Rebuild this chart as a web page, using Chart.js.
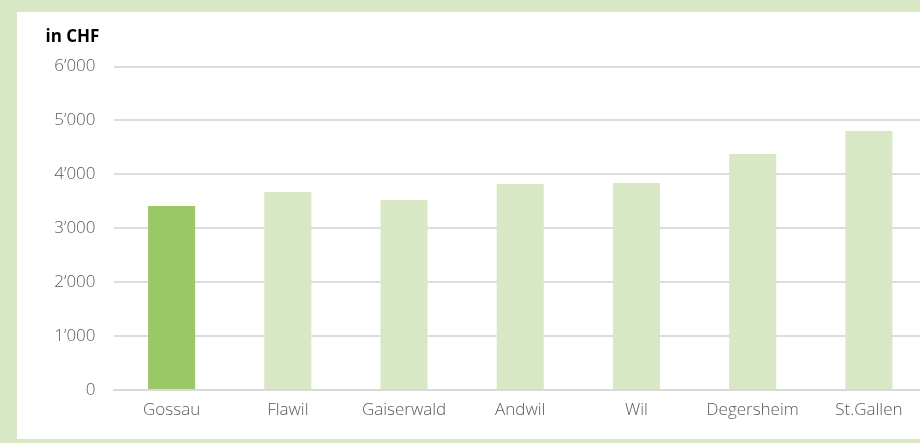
<!DOCTYPE html>
<html>
<head>
<meta charset="utf-8">
<script src="https://cdn.jsdelivr.net/npm/chart.js@4/dist/chart.umd.min.js"></script>
<style>
  html, body { margin: 0; padding: 0; width: 920px; height: 443px; overflow: hidden; background: #d8e8c5; }
  #panel { position: absolute; left: 17px; top: 12px; width: 910px; height: 427px; background: #ffffff; overflow: hidden; }
  canvas { display: block; }
</style>
</head>
<body>
<div id="panel"><canvas id="c" width="910" height="427"></canvas></div>
<script>
const categories = ["Gossau", "Flawil", "Gaiserwald", "Andwil", "Wil", "Degersheim", "St.Gallen"];
const values = [3415, 3675, 3525, 3820, 3840, 4380, 4805];
const barColors = ["#9bc866", "#d8e8c5", "#d8e8c5", "#d8e8c5", "#d8e8c5", "#d8e8c5", "#d8e8c5"];
const unitLabel = "in CHF";
const yMin = 0, yMax = 6000, yStep = 1000;

function fmt(v) {
  return String(v).replace(/\B(?=(\d{3})+(?!\d))/g, "\u2019");
}

const unitPlugin = {
  id: "unitLabel",
  afterDraw(chart) {
    const ctx = chart.ctx;
    ctx.save();
    ctx.font = 'bold 17px "Open Sans"';
    ctx.fillStyle = "#000000";
    ctx.textAlign = "left";
    ctx.textBaseline = "alphabetic";
    ctx.fillText(unitLabel, 28.5, 29.5);
    ctx.restore();
  }
};

new Chart(document.getElementById("c"), {
  type: "bar",
  data: {
    labels: categories,
    datasets: [{
      data: values,
      backgroundColor: barColors,
      borderWidth: 0,
      categoryPercentage: 1,
      barPercentage: 0.405
    }]
  },
  options: {
    responsive: false,
    animation: false,
    layout: { padding: { top: 54.6, right: 0, bottom: 0, left: 0 } },
    plugins: { legend: { display: false }, tooltip: { enabled: false }, title: { display: false } },
    scales: {
      x: {
        grid: { display: false, drawTicks: false, tickLength: 0 },
        border: { display: true, color: "#d9d9d9", width: 2 },
        ticks: { color: "#595959", font: { family: "Open Sans", size: 17, weight: 300 }, padding: 10, maxRotation: 0, autoSkip: false },
        afterFit(scale) { scale.height = 49; }
      },
      y: {
        min: yMin, max: yMax,
        grid: { color: "#dcdcdc", lineWidth: 2, drawTicks: false, tickLength: 0 },
        border: { display: false },
        ticks: {
          stepSize: yStep,
          color: "#595959",
          font: { family: "Open Sans", size: 17, weight: 300 },
          padding: 18,
          callback: (v) => fmt(v)
        },
        afterFit(scale) { scale.width = 96.5; }
      }
    }
  },
  plugins: [unitPlugin]
});
</script>
</body>
</html>
